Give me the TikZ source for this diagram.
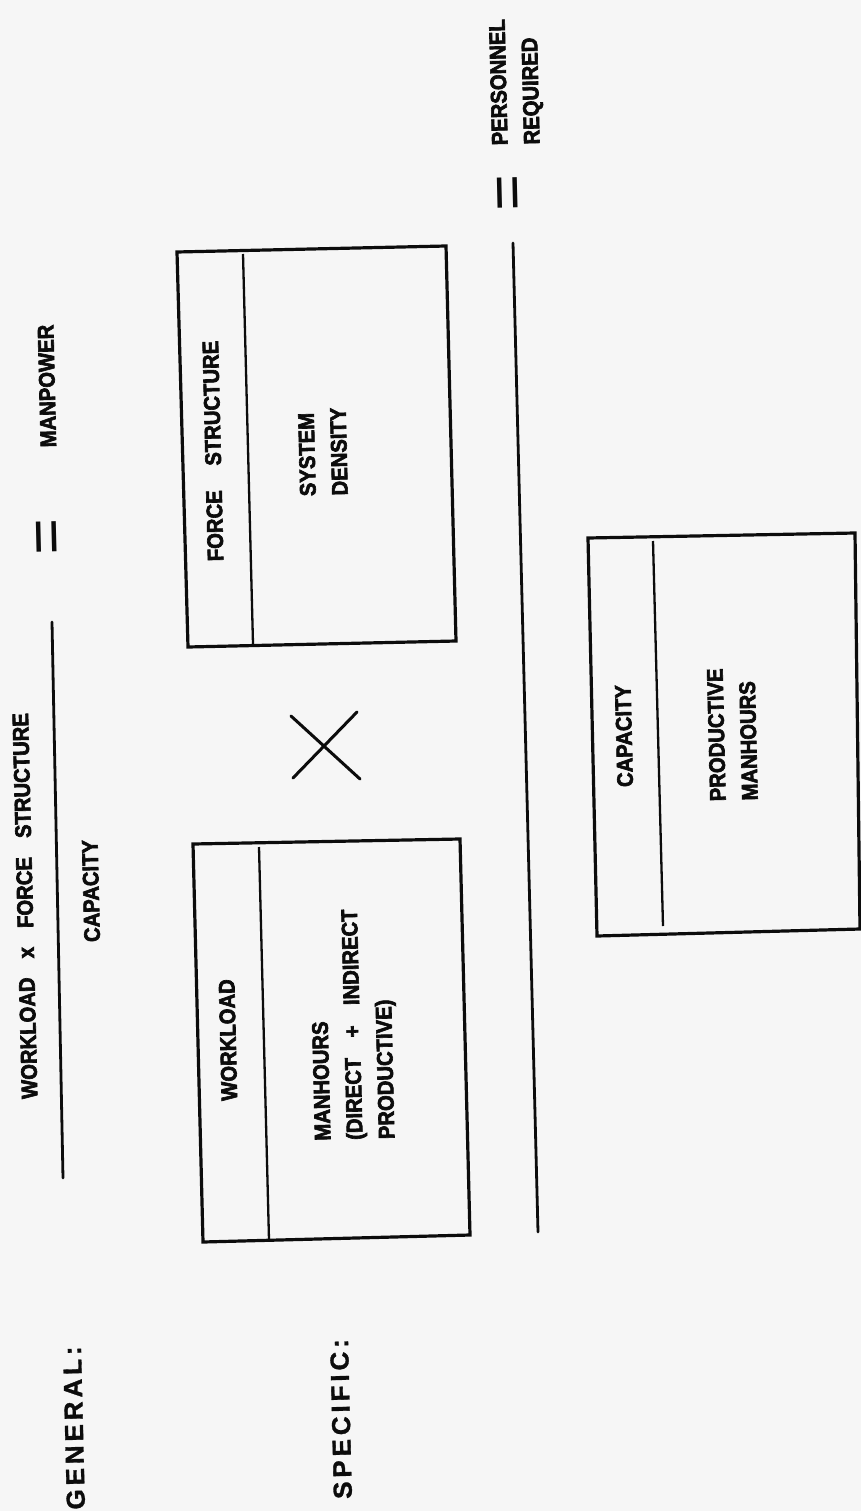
\documentclass[tikz,border=0pt]{standalone}
\usepackage{fontspec}
\setmainfont{Liberation Sans}
\newfontfamily\lblfont[FakeBold=2.8,FakeStretch=0.9]{Liberation Sans Bold}
\newfontfamily\headfont[LetterSpace=15,FakeBold=1.2]{Liberation Sans Bold}
\definecolor{paper}{RGB}{246,246,246}
\definecolor{ink}{RGB}{12,12,12}
\begin{document}
\begin{tikzpicture}[x=1pt,y=-1pt,
  lbl/.style={font=\lblfont\fontsize{22.5}{32}\selectfont, text=ink, rotate=91.4, inner sep=0pt},
  head/.style={font=\headfont\fontsize{26}{30}\selectfont, text=ink, rotate=91.4, inner sep=0pt},
  eqsign/.style={font=\fontsize{62}{62}\selectfont, text=ink, rotate=91.4, inner sep=0pt},
  boxline/.style={draw=ink, line width=3.2pt, line join=miter},
  divline/.style={draw=ink, line width=2.3pt},
  barline/.style={draw=ink, line width=2.8pt, line cap=round},
  crossline/.style={draw=ink, line width=3pt, line cap=round}]
\fill[paper] (0,0) rectangle (861,1511);
\useasboundingbox (0,0) rectangle (861,1511);

% GENERAL equation
\node[head] (gen) at (74,1428) {GENERAL:};
\node[lbl] (gnum) at (25,906) {WORKLOAD\hspace{0.85em}x\hspace{0.85em}FORCE\hspace{0.85em}STRUCTURE};
\node[lbl] (gden) at (91,891) {CAPACITY};
\coordinate (gbarA) at (52,622);
\coordinate (gbarB) at (63,1178);
\draw[barline] (gbarA) -- (gbarB);
\node[eqsign] (geq) at (51.5,536.5) {=};
\node[lbl] (gres) at (47,386) {MANPOWER};

% SPECIFIC equation
\node[head] (spec) at (341,1419) {SPECIFIC:};

% Workload box
\coordinate (w1) at (193,844);
\coordinate (w2) at (460,839);
\coordinate (w3) at (470,1235);
\coordinate (w4) at (203,1242);
\coordinate (wd1) at (259,847);
\coordinate (wd2) at (269,1240);
\draw[boxline] (w1) -- (w2) -- (w3) -- (w4) -- cycle;
\draw[divline] (wd1) -- (wd2);
\node[lbl] (wh) at (228,1040) {WORKLOAD};
\node[lbl, align=left, anchor=west] (wb) at (357,1140) {MANHOURS\\(DIRECT\hspace{0.91em}+\hspace{0.91em}INDIRECT\\PRODUCTIVE)};

% multiplication cross
\coordinate (xa) at (291,716);
\coordinate (xb) at (360,779);
\coordinate (xc) at (293,778);
\coordinate (xd) at (357,712);
\draw[crossline] (xa) -- (xb);
\draw[crossline] (xc) -- (xd);

% Force structure box
\coordinate (f1) at (177,252);
\coordinate (f2) at (446,246);
\coordinate (f3) at (456,641);
\coordinate (f4) at (188,647);
\coordinate (fd1) at (243,254);
\coordinate (fd2) at (253,644);
\draw[boxline] (f1) -- (f2) -- (f3) -- (f4) -- cycle;
\draw[divline] (fd1) -- (fd2);
\node[lbl] (fh) at (213,451) {FORCE\hspace{1.1em}STRUCTURE};
\node[lbl, align=left, anchor=west] (fb) at (324,496) {SYSTEM\\DENSITY};

% specific fraction bar
\coordinate (sbarA) at (513,243);
\coordinate (sbarB) at (538,1232);
\draw[barline] (sbarA) -- (sbarB);

% Capacity box
\coordinate (c1) at (588,538);
\coordinate (c2) at (855,533);
\coordinate (c3) at (860,929);
\coordinate (c4) at (597,936);
\coordinate (cd1) at (653,541);
\coordinate (cd2) at (663,926);
\draw[boxline] (c1) -- (c2) -- (c3) -- (c4) -- cycle;
\draw[divline] (cd1) -- (cd2);
\node[lbl] (ch) at (624,736) {CAPACITY};
\node[lbl, align=left, anchor=west] (cb) at (734,801) {PRODUCTIVE\\MANHOURS};

% result
\node[eqsign] (seq) at (513,193) {=};
\node[lbl, align=left, anchor=west] (sres) at (518,145) {PERSONNEL\\REQUIRED};
\end{tikzpicture}
\end{document}
